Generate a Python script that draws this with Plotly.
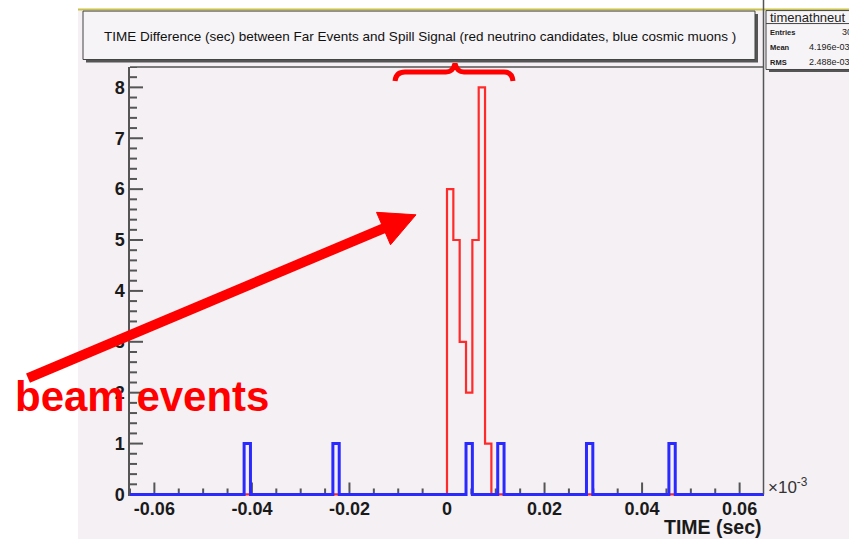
import numpy as np
import plotly.graph_objects as go

# ---------------- data ----------------
BIN_LOW = -0.065
BIN_HIGH = 0.065
N_BINS = 100

red_bin_starts = [0.0, 0.0013, 0.0026, 0.0039, 0.0052, 0.0065, 0.0078]
red_counts = [6, 5, 3, 2, 5, 8, 1]

blue_bin_starts = [-0.0416, -0.0234, 0.0039, 0.0104, 0.0286, 0.0455]
blue_counts = [1, 1, 1, 1, 1, 1]

x_tick_vals = [-0.06, -0.04, -0.02, 0.0, 0.02, 0.04, 0.06]
x_tick_labels = ["-0.06", "-0.04", "-0.02", "0", "0.02", "0.04", "0.06"]
y_tick_vals = [0, 1, 2, 3, 4, 5, 6, 7, 8]
y_tick_labels = ["0", "1", "2", "3", "4", "5", "6", "7", "8"]
X_MINOR_STEP = 0.005
Y_MINOR_STEP = 0.2

title_text = "TIME Difference (sec) between Far Events and Spill Signal (red neutrino candidates, blue cosmic muons )"
stats_name = "timenathneut"
stats_rows = [("Entries", "30"), ("Mean", "4.196e-03"), ("RMS", "2.488e-03")]

# ---------------- histogram building ----------------
width = (BIN_HIGH - BIN_LOW) / N_BINS
edges = BIN_LOW + width * np.arange(N_BINS + 1)


def fill(starts, counts):
    h = np.zeros(N_BINS)
    for s, c in zip(starts, counts):
        h[int(round((s - BIN_LOW) / width))] = c
    return [float(v) for v in h] + [float(h[-1])]


red_hist = fill(red_bin_starts, red_counts)
blue_hist = fill(blue_bin_starts, blue_counts)

# ---------------- layout geometry ----------------
FW, FH = 849, 539
L, R, T, B = 130, 764, 67, 496.5
W, H = R - L, B - T
Y_RANGE = [-0.03, 8.4]
X_PX_PER_UNIT = W / (BIN_HIGH - BIN_LOW)
Y_PX_PER_UNIT = H / (Y_RANGE[1] - Y_RANGE[0])


def px(x):
    return (x - L) / W


def py(y):
    return (B - y) / H


FONT = "Liberation Sans, Arial, Helvetica, sans-serif"
BG = "#f4f0f4"
AX = "#555555"

fig = go.Figure()

# ---- ROOT-style inside tick marks, one short segment per tick, on the axes' own scales ----
for v in np.arange(BIN_LOW, BIN_HIGH + 1e-9, X_MINOR_STEP):
    v = float(round(v, 6))
    major = any(abs(v - t) < 1e-9 for t in x_tick_vals)
    ln = (12 if major else 6) / Y_PX_PER_UNIT
    fig.add_trace(go.Scatter(x=[v, v], y=[0.0, ln], mode="lines",
                             line=dict(color=AX, width=2), hoverinfo="skip",
                             showlegend=False))
for v in np.arange(0, Y_RANGE[1] + 1e-9, Y_MINOR_STEP):
    v = float(round(v, 6))
    major = any(abs(v - t) < 1e-9 for t in y_tick_vals)
    ln = (13 if major else 7) / X_PX_PER_UNIT
    fig.add_trace(go.Scatter(x=[BIN_LOW, BIN_LOW + ln], y=[v, v], mode="lines",
                             line=dict(color=AX, width=2), hoverinfo="skip",
                             showlegend=False))

fig.add_trace(go.Scatter(x=[float(e) for e in edges], y=red_hist, mode="lines",
                         line_shape="hv", line=dict(color="#ff2a2a", width=2.2),
                         hoverinfo="skip", showlegend=False))
fig.add_trace(go.Scatter(x=[float(e) for e in edges], y=blue_hist, mode="lines",
                         line_shape="hv", line=dict(color="#2a2aff", width=3),
                         hoverinfo="skip", showlegend=False))

shapes = []
# white page outside the canvas
shapes.append(dict(type="rect", xref="paper", yref="paper", x0=px(-5), x1=px(78),
                   y0=py(-5), y1=py(FH + 5), fillcolor="white", line=dict(width=0)))
shapes.append(dict(type="rect", xref="paper", yref="paper", x0=px(-5), x1=px(FW + 5),
                   y0=py(-5), y1=py(9), fillcolor="white", line=dict(width=0)))
# yellow strip at top
shapes.append(dict(type="line", xref="paper", yref="paper", x0=px(78), x1=px(FW + 5),
                   y0=py(9.5), y1=py(9.5), line=dict(color="#c9c24a", width=2)))
# title box with shadow
shapes.append(dict(type="rect", xref="paper", yref="paper", x0=px(86), x1=px(758),
                   y0=py(14), y1=py(62.5), fillcolor="#555555", line=dict(width=0)))
shapes.append(dict(type="rect", xref="paper", yref="paper", x0=px(83), x1=px(755),
                   y0=py(11), y1=py(59.5), fillcolor="#f6f4f6",
                   line=dict(color="#444444", width=1)))
# stats box with shadow
shapes.append(dict(type="rect", xref="paper", yref="paper", x0=px(769), x1=px(FW + 10),
                   y0=py(13), y1=py(72), fillcolor="#555555", line=dict(width=0)))
shapes.append(dict(type="rect", xref="paper", yref="paper", x0=px(766), x1=px(FW + 10),
                   y0=py(10.5), y1=py(69.5), fillcolor="#f6f4f6",
                   line=dict(color="#444444", width=1)))
shapes.append(dict(type="line", xref="paper", yref="paper", x0=px(766), x1=px(FW + 10),
                   y0=py(23.5), y1=py(23.5), line=dict(color="#444444", width=1)))
# frame: top line and right line continuing to top of canvas
shapes.append(dict(type="line", xref="paper", yref="paper", x0=px(L), x1=px(R),
                   y0=py(T), y1=py(T), line=dict(color=AX, width=1.5)))
shapes.append(dict(type="line", xref="paper", yref="paper", x0=px(763.5), x1=px(763.5),
                   y0=py(0), y1=py(495), line=dict(color=AX, width=1.5)))
# red arrow
shapes.append(dict(type="line", xref="paper", yref="paper", x0=px(28), y0=py(378.5),
                   x1=px(386), y1=py(227.5), line=dict(color="#ff0000", width=10)))
arrow_path = "M {},{} L {},{} L {},{} Z".format(px(416), py(215), px(376.5), py(212.5),
                                                 px(390.5), py(245))
shapes.append(dict(type="path", xref="paper", yref="paper", path=arrow_path,
                   fillcolor="#ff0000", line=dict(color="#ff0000", width=1)))
# red curly brace
bp = [(395, 81), (396, 72), (405, 72), (446, 72), (453, 72), (455, 63.5),
      (457, 72), (464, 72), (504, 72), (512, 72), (513, 81)]
P = [(px(a), py(b)) for a, b in bp]
brace = ("M {0[0]},{0[1]} Q {1[0]},{1[1]} {2[0]},{2[1]} L {3[0]},{3[1]} "
         "Q {4[0]},{4[1]} {5[0]},{5[1]} Q {6[0]},{6[1]} {7[0]},{7[1]} L {8[0]},{8[1]} "
         "Q {9[0]},{9[1]} {10[0]},{10[1]}").format(*P)
shapes.append(dict(type="path", xref="paper", yref="paper", path=brace,
                   line=dict(color="#ff0000", width=5)))

annotations = []
annotations.append(dict(xref="paper", yref="paper", x=px(420), y=py(36), text=title_text,
                        showarrow=False, xanchor="center", yanchor="middle",
                        font=dict(family=FONT, size=13.5, color="#111111")))
annotations.append(dict(xref="paper", yref="paper", x=px(768), y=py(17), text=stats_name,
                        showarrow=False, xanchor="left", yanchor="middle",
                        font=dict(family=FONT, size=13, color="#222222")))
for i, (k, v) in enumerate(stats_rows):
    yy = 32 + 15 * i
    annotations.append(dict(xref="paper", yref="paper", x=px(768), y=py(yy), text=k,
                            showarrow=False, xanchor="left", yanchor="middle",
                            font=dict(family=FONT, size=7.5, color="#222222", weight="bold")))
    vx = 840 if k == "Entries" else 807
    annotations.append(dict(xref="paper", yref="paper", x=px(vx), y=py(yy), text=v,
                            showarrow=False, xanchor="left", yanchor="middle",
                            font=dict(family=FONT, size=9, color="#222222")))
annotations.append(dict(xref="paper", yref="paper", x=px(766), y=py(486), text="×10<sup>-3</sup>",
                        showarrow=False, xanchor="left", yanchor="middle",
                        font=dict(family=FONT, size=17, color="#333333")))
annotations.append(dict(xref="paper", yref="paper", x=px(764), y=py(528), text="TIME (sec)",
                        showarrow=False, xanchor="right", yanchor="middle",
                        font=dict(family=FONT, size=19.5, color="#1a1a1a", weight="bold")))
annotations.append(dict(xref="paper", yref="paper", x=px(13), y=py(397), text="beam events",
                        showarrow=False, xanchor="left", yanchor="middle",
                        font=dict(family=FONT, size=42, color="#ff0000", weight="bold")))

fig.update_layout(
    width=FW, height=FH,
    margin=dict(l=L, r=FW - R, t=T, b=FH - B, pad=0),
    paper_bgcolor=BG, plot_bgcolor="rgba(0,0,0,0)",
    shapes=shapes, annotations=annotations,
    xaxis=dict(range=[BIN_LOW, BIN_HIGH], tickmode="array", tickvals=x_tick_vals,
               ticktext=x_tick_labels, ticks="",
               showline=False, showgrid=False, zeroline=False,
               tickfont=dict(family=FONT, size=18, color="#1a1a1a", weight="bold")),
    yaxis=dict(range=Y_RANGE, tickmode="array", tickvals=y_tick_vals, ticktext=y_tick_labels,
               ticks="", showline=True, linecolor=AX, linewidth=1.5,
               showgrid=False, zeroline=False,
               tickfont=dict(family=FONT, size=18, color="#1a1a1a", weight="bold")),
)

fig.write_html("out.html")
